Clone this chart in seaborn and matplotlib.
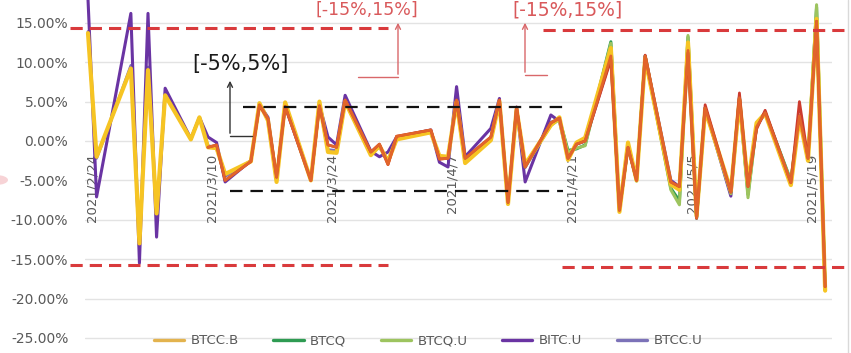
import numpy as np
import pandas as pd
import matplotlib
matplotlib.use("Agg")
import matplotlib.pyplot as plt
import matplotlib.dates as mdates
import matplotlib.transforms as mtrans
from matplotlib.lines import Line2D
from matplotlib.patches import FancyArrowPatch, Circle
import seaborn as sns

# ---------------- data ----------------
trade_days = [
    "2021-02-24", "2021-02-25", "2021-02-26",
    "2021-03-01", "2021-03-02", "2021-03-03", "2021-03-04", "2021-03-05",
    "2021-03-08", "2021-03-09", "2021-03-10", "2021-03-11", "2021-03-12",
    "2021-03-15", "2021-03-16", "2021-03-17", "2021-03-18", "2021-03-19",
    "2021-03-22", "2021-03-23", "2021-03-24", "2021-03-25", "2021-03-26",
    "2021-03-29", "2021-03-30", "2021-03-31", "2021-04-01",
    "2021-04-05", "2021-04-06", "2021-04-07", "2021-04-08", "2021-04-09",
    "2021-04-12", "2021-04-13", "2021-04-14", "2021-04-15", "2021-04-16",
    "2021-04-19", "2021-04-20", "2021-04-21", "2021-04-22", "2021-04-23",
    "2021-04-26", "2021-04-27", "2021-04-28", "2021-04-29", "2021-04-30",
    "2021-05-03", "2021-05-04", "2021-05-05", "2021-05-06", "2021-05-07",
    "2021-05-10", "2021-05-11", "2021-05-12", "2021-05-13", "2021-05-14",
    "2021-05-17", "2021-05-18", "2021-05-19", "2021-05-20", "2021-05-21",
]

nan = np.nan

btcc_b = [13.7, -2.0, 0.8,
          9.2, -13.0, 9.0, -9.2, 5.8,
          0.2, 3.0, -0.8, -0.9, -4.2,
          -2.6, 4.8, 2.6, -5.2, 4.9,
          -5.0, 5.0, -1.4, -1.5, 5.0,
          -1.8, -0.6, -2.6, 0.2,
          1.1, -1.9, -2.0, 5.0, -2.8,
          0.1, 5.0, -8.0, 4.0, -3.0,
          2.0, 3.0, -2.4, -0.2, 0.4,
          11.8, -9.0, -0.2, -5.0, 10.5,
          -5.5, -6.2, 12.5, -9.5, 4.0,
          -6.3, 5.2, -5.5, 2.3, 3.5,
          -5.6, 3.0, -2.5, 15.5, -19.0]

btcc_u = [13.9, -2.2, 0.6,
          9.6, -13.4, 9.4, -9.6, 5.9,
          0.2, 3.0, -0.6, -0.8, -4.5,
          -2.5, 4.7, 2.7, -5.0, 4.7,
          -5.0, 4.8, -1.1, -1.2, 5.2,
          -1.6, -0.8, -2.4, 0.3,
          1.2, -2.0, -2.2, 5.4, -2.5,
          0.4, 5.2, -7.9, 4.1, -3.4,
          2.4, 2.8, -2.3, -0.3, 0.2,
          11.2, -8.9, -0.5, -5.0, 10.6,
          -5.3, -6.0, 12.0, -9.6, 4.1,
          -6.6, 5.4, -5.7, 2.0, 3.6,
          -5.4, 3.1, -2.3, 15.3, -18.8]

bitc_u = [18.0, -7.1, -1.3,
          16.2, -15.5, 16.2, -12.2, 6.7,
          0.3, 3.0, 0.5, -0.2, -5.2,
          -2.5, 4.6, 3.0, -4.8, 4.4,
          -5.0, 4.6, 0.5, -0.5, 5.8,
          -1.3, -2.0, -1.4, 0.5,
          1.4, -2.7, -3.3, 6.9, -2.0,
          1.6, 5.4, -7.8, 4.3, -5.2,
          3.3, 2.5, -2.2, -0.4, 0.0,
          10.6, -8.8, -0.8, -5.0, 10.8,
          -5.0, -5.8, 11.0, -9.8, 4.2,
          -7.0, 5.6, -5.8, 1.8, 3.6,
          -5.3, 3.2, -2.2, 15.0, -18.5]

btcq = [nan] * 36 + [-3.2,
        2.2, 2.8, -1.2, -1.0, -0.5,
        12.6, -8.8, -0.6, -5.0, 10.8,
        -6.0, -7.6, 13.2, -9.8, 4.2,
        -6.5, 5.5, -6.8, 2.0, 3.6,
        -5.0, 3.1, -2.2, 17.0, -18.8]

btcq_u = [nan] * 36 + [-3.3,
          2.0, 2.7, -1.4, -0.9, -0.6,
          12.4, -8.9, -0.5, -5.1, 10.7,
          -6.2, -8.1, 13.4, -9.7, 4.1,
          -6.7, 5.4, -7.2, 2.1, 3.5,
          -5.1, 3.0, -2.3, 17.3, -18.9]

# two further funds drawn in the chart (not listed in the visible legend)
fund_red = [nan] * 10 + [-0.8, -0.5, -5.0,
            -2.6, 4.5, 2.8, -4.6, 4.4,
            -5.0, 4.4, -0.5, -0.8, 5.2,
            -1.4, -0.4, -3.0, 0.6,
            1.4, -2.3, -2.2, 5.2, -2.2,
            0.5, 5.2, -7.8, 4.3, -3.3,
            2.3, 2.9, -2.2, -0.4, 0.0,
            10.3, -8.8, -0.8, -5.0, 10.9,
            -5.2, -5.8, 11.2, -9.8, 4.6,
            -6.5, 6.1, -5.8, 1.5, 3.9,
            -5.3, 5.0, -2.2, 15.2, -18.5]

fund_orange = [nan] * 10 + [-0.8, -0.5, -5.0,
               -2.6, 4.6, 2.8, -4.6, 4.4,
               -5.0, 4.5, -0.5, -0.8, 5.2,
               -1.4, -0.4, -3.0, 0.6,
               1.4, -2.3, -2.2, 5.2, -2.2,
               0.5, 5.2, -7.8, 4.3, -3.3,
               2.3, 2.9, -2.2, -0.4, 0.0,
               10.8, -8.8, -0.8, -5.0, 10.8,
               -5.2, -5.8, 11.5, -9.8, 4.2,
               -6.5, 5.5, -5.8, 1.8, 3.6,
               -5.3, 3.2, -2.2, 15.2, -18.5]

legend_names = ["BTCC.B", "BTCQ", "BTCQ.U", "BITC.U", "BTCC.U"]
legend_colors = ["#E3B34E", "#2E9B52", "#9DC45F", "#6A34A3", "#7C72B8"]

tick_dates = ["2021-02-24", "2021-03-10", "2021-03-24", "2021-04-07",
              "2021-04-21", "2021-05-05", "2021-05-19"]
tick_labels = ["2021/2/24", "2021/3/10", "2021/3/24", "2021/4/7",
               "2021/4/21", "2021/5/5", "2021/5/19"]

y_ticks = [-25, -20, -15, -10, -5, 0, 5, 10, 15]

band_inner = "[-5%,5%]"
band_outer = "[-15%,15%]"

# ---------------- figure ----------------
sns.set_theme(style="white")
plt.rcParams["font.family"] = ["DejaVu Sans"]

W, H = 851, 353
fig = plt.figure(figsize=(W / 100, H / 100), dpi=100)
ax = fig.add_axes([85 / W, 8 / H, 747 / W, 345 / H])

dates = pd.to_datetime(trade_days)
x = mdates.date2num(dates)

series = [
    (btcc_u, "#7C72B8", 2.0),
    (bitc_u, "#6A34A3", 2.2),
    (btcq, "#2E9B52", 2.2),
    (btcq_u, "#9DC45F", 2.2),
    (btcc_b, "#F6C423", 3.0),
    (fund_red, "#CC3B2E", 2.0),
    (fund_orange, "#E2652A", 2.0),
]
for vals, col, lw in series:
    df = pd.DataFrame({"x": x, "y": vals}).dropna()
    sns.lineplot(data=df, x="x", y="y", color=col, linewidth=lw, ax=ax,
                 legend=False, sort=False)

x0 = mdates.date2num(pd.Timestamp("2021-02-24"))
ax.set_xlim(x0 - 0.35, x0 + 86.8)
ax.set_ylim(-25.9, 17.9)

ax.set_yticks(y_ticks)
ax.set_yticklabels([f"{v:.2f}%" for v in y_ticks], color="#595959", fontsize=10)
ax.yaxis.grid(True, color="#E3E3E3", linewidth=1)
ax.set_axisbelow(True)
ax.set_xticks([])
ax.set_xlabel("")
ax.set_ylabel("")
ax.tick_params(axis="y", left=False, pad=6)
for s in ax.spines.values():
    s.set_visible(False)

for d, lab in zip(tick_dates, tick_labels):
    ax.annotate(lab, xy=(mdates.date2num(pd.Timestamp(d)), 0),
                xytext=(3, -9), textcoords="offset points",
                rotation=90, ha="center", va="top",
                color="#595959", fontsize=9.5, zorder=1)

# ---------------- annotations ----------------
def fp(px, py):
    return (px / W, 1 - py / H)

blend = mtrans.blended_transform_factory(fig.transFigure, ax.transData)
for (xa, xb, yv) in [(70, 388, 14.3), (543, 851, 14.1),
                     (70, 388, -15.7), (562, 851, -16.0)]:
    ax.plot([xa / W, xb / W], [yv, yv], transform=blend, color="#D93A3C",
            lw=2.2, ls=(0, (4.0, 2.3)), clip_on=False, zorder=6)
for (xa, xb, yv) in [(243, 563, 4.3), (230, 563, -6.3)]:
    ax.plot([xa / W, xb / W], [yv, yv], transform=blend, color="#111111",
            lw=1.6, ls=(0, (5.6, 3.6)), clip_on=False, zorder=6)

def elbow_arrow(xh, xv, y_low, y_top, col):
    fig.add_artist(Line2D([xh / W, xv / W], [1 - y_low / H, 1 - y_low / H],
                          color=col, lw=1.0))
    fig.add_artist(FancyArrowPatch(fp(xv, y_low), fp(xv, y_top),
                                   transform=fig.transFigure,
                                   arrowstyle="->", mutation_scale=9,
                                   color=col, lw=1.0))

elbow_arrow(252, 230, 136, 78, "#333333")
elbow_arrow(358, 398, 77, 20, "#D9676A")
elbow_arrow(547, 525, 75, 20, "#D9676A")

fig.text(*fp(240, 70), band_inner, ha="center", va="baseline",
         fontsize=15, color="#1a1a1a")
fig.text(*fp(367, 15), band_outer, ha="center", va="baseline",
         fontsize=12.5, color="#D9595B")
fig.text(*fp(568, 15), band_outer, ha="center", va="baseline",
         fontsize=13.5, color="#D9595B")

# right border line of the chart area
fig.add_artist(Line2D([848 / W, 848 / W], [0, 1], color="#D9D9D9", lw=1))
# faint watermark piece at the left edge
fig.add_artist(Circle(fp(-4, 180), 12 / W, transform=fig.transFigure,
                      color="#F7D3D6", lw=0))

# ---------------- legend ----------------
handles = [Line2D([0], [0], color=c, lw=2.4) for c in legend_colors]
fig.legend(handles, legend_names, loc="center", bbox_to_anchor=(428 / W, 12 / H),
           ncol=5, frameon=False, fontsize=9.5, handlelength=2.3,
           handletextpad=0.5, columnspacing=2.6, labelcolor="#595959",
           borderpad=0, borderaxespad=0)

fig.savefig("out.png", dpi=100)
